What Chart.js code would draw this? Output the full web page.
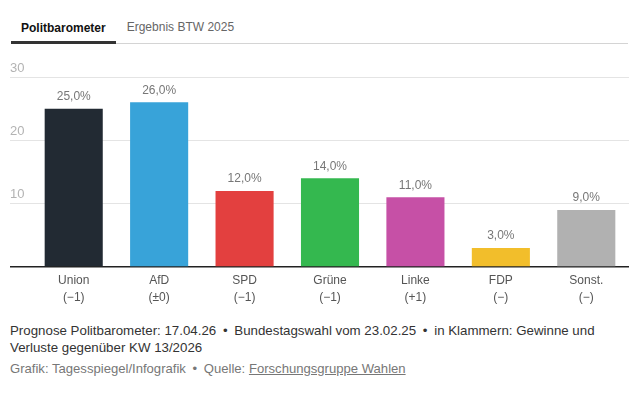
<!DOCTYPE html>
<html lang="de">
<head>
<meta charset="utf-8">
<title>Politbarometer</title>
<script src="https://cdn.jsdelivr.net/npm/chart.js@4/dist/chart.umd.min.js"></script>
<style>
    body {
        margin: 0;
        width: 636px;
        background: #fff;
        font-family: "Liberation Sans", Arial, sans-serif;
        color: #333;
    }
    .tabs {
        margin: 0 8px 0 11px;
        height: 43px;
        border-bottom: 1px solid #d4d4d4;
        display: flex;
        align-items: flex-end;
    }
    .tab {
        font-size: 12px;
        line-height: 16px;
        padding: 0 11px 8px 11px;
        color: #666;
    }
    .tab.active {
        padding: 0 10px 5px 10px;
        font-weight: bold;
        color: #111;
        border-bottom: 3px solid #333;
        margin-bottom: -1px;
    }
    .chart-box {
        position: relative;
        width: 636px;
        height: 262px;
        margin-top: 6px;
    }
    .note {
        margin: 10px 8px 0 10px;
        font-size: 13.3px;
        line-height: 17px;
        color: #333;
    }
    .source {
        margin: 4px 8px 0 10px;
        font-size: 13.1px;
        line-height: 17px;
        color: #777;
    }
    .dot {
        margin: 0 3px;
    }
    .source a {
        color: #777;
        text-decoration: underline;
    }
</style>
</head>
<body>

<div class="tabs">
    <span class="tab active">Politbarometer</span>
    <span class="tab">Ergebnis BTW 2025</span>
</div>

<div class="chart-box">
    <canvas id="pbChart"></canvas>
</div>

<div class="note">
    Prognose Politbarometer: 17.04.26 <span class="dot">•</span> Bundestagswahl vom 23.02.25 <span class="dot">•</span> in Klammern: Gewinne und<br>
    Verluste gegenüber KW 13/2026
</div>
<div class="source">
    Grafik: Tagesspiegel/Infografik <span class="dot">•</span> Quelle: <a href="#">Forschungsgruppe Wahlen</a>
</div>

<script>
// data
const parties = ['Union', 'AfD', 'SPD', 'Grüne', 'Linke', 'FDP', 'Sonst.'];
const changes = ['(−1)', '(±0)', '(−1)', '(−1)', '(+1)', '(−)', '(−)'];
const shares = [25, 26, 12, 14, 11, 3, 9];
const partyColors = ['#222a33', '#38a3d9', '#e3403f', '#34b84f', '#c650a6', '#f2be2b', '#b1b1b1'];
const yTicks = [0, 10, 20, 30];

Chart.defaults.font.family = '"Liberation Sans", Arial, sans-serif';

// percent labels above each bar
const valueLabels = {
    id: 'valueLabels',
    afterDatasetsDraw(chart) {
        const ctx = chart.ctx;
        const meta = chart.getDatasetMeta(0);
        ctx.save();
        ctx.font = '12px "Liberation Sans", Arial, sans-serif';
        ctx.fillStyle = '#777';
        ctx.textAlign = 'center';
        ctx.textBaseline = 'middle';
        meta.data.forEach((bar, i) => {
            const txt = shares[i].toFixed(1).replace('.', ',') + '%';
            ctx.fillText(txt, bar.x, bar.y - 12);
        });
        ctx.restore();
    }
};

new Chart(document.getElementById('pbChart'), {
    type: 'bar',
    data: {
        labels: parties.map((p, i) => [p, changes[i]]),
        datasets: [{
            data: shares,
            backgroundColor: partyColors,
            borderWidth: 0,
            categoryPercentage: 1,
            barPercentage: 0.68
        }]
    },
    options: {
        responsive: true,
        maintainAspectRatio: false,
        animation: false,
        devicePixelRatio: 1,
        layout: { padding: { left: 10, right: 7, top: 27, bottom: 0 } },
        plugins: {
            legend: { display: false },
            tooltip: { enabled: false }
        },
        scales: {
            x: {
                grid: { display: false, drawTicks: false },
                border: { display: false },
                ticks: {
                    color: '#555',
                    font: { size: 12, lineHeight: 1.42 },
                    padding: 5,
                    maxRotation: 0,
                    autoSkip: false
                },
                afterFit: s => { s.height = 45; }
            },
            y: {
                min: yTicks[0],
                max: yTicks[yTicks.length - 1],
                border: { display: false },
                grid: {
                    color: c => c.tick.value === 0 ? '#222' : '#e4e4e4',
                    lineWidth: c => c.tick.value === 0 ? 1.5 : 1,
                    drawTicks: true,
                    tickLength: 21
                },
                ticks: {
                    stepSize: 10,
                    crossAlign: 'far',
                    padding: 0,
                    labelOffset: -9,
                    color: '#b3b3b3',
                    font: { size: 13 },
                    callback: v => (v === 0 ? '' : v)
                },
                afterFit: s => { s.width = 21; }
            }
        }
    },
    plugins: [valueLabels]
});
</script>
</body>
</html>
